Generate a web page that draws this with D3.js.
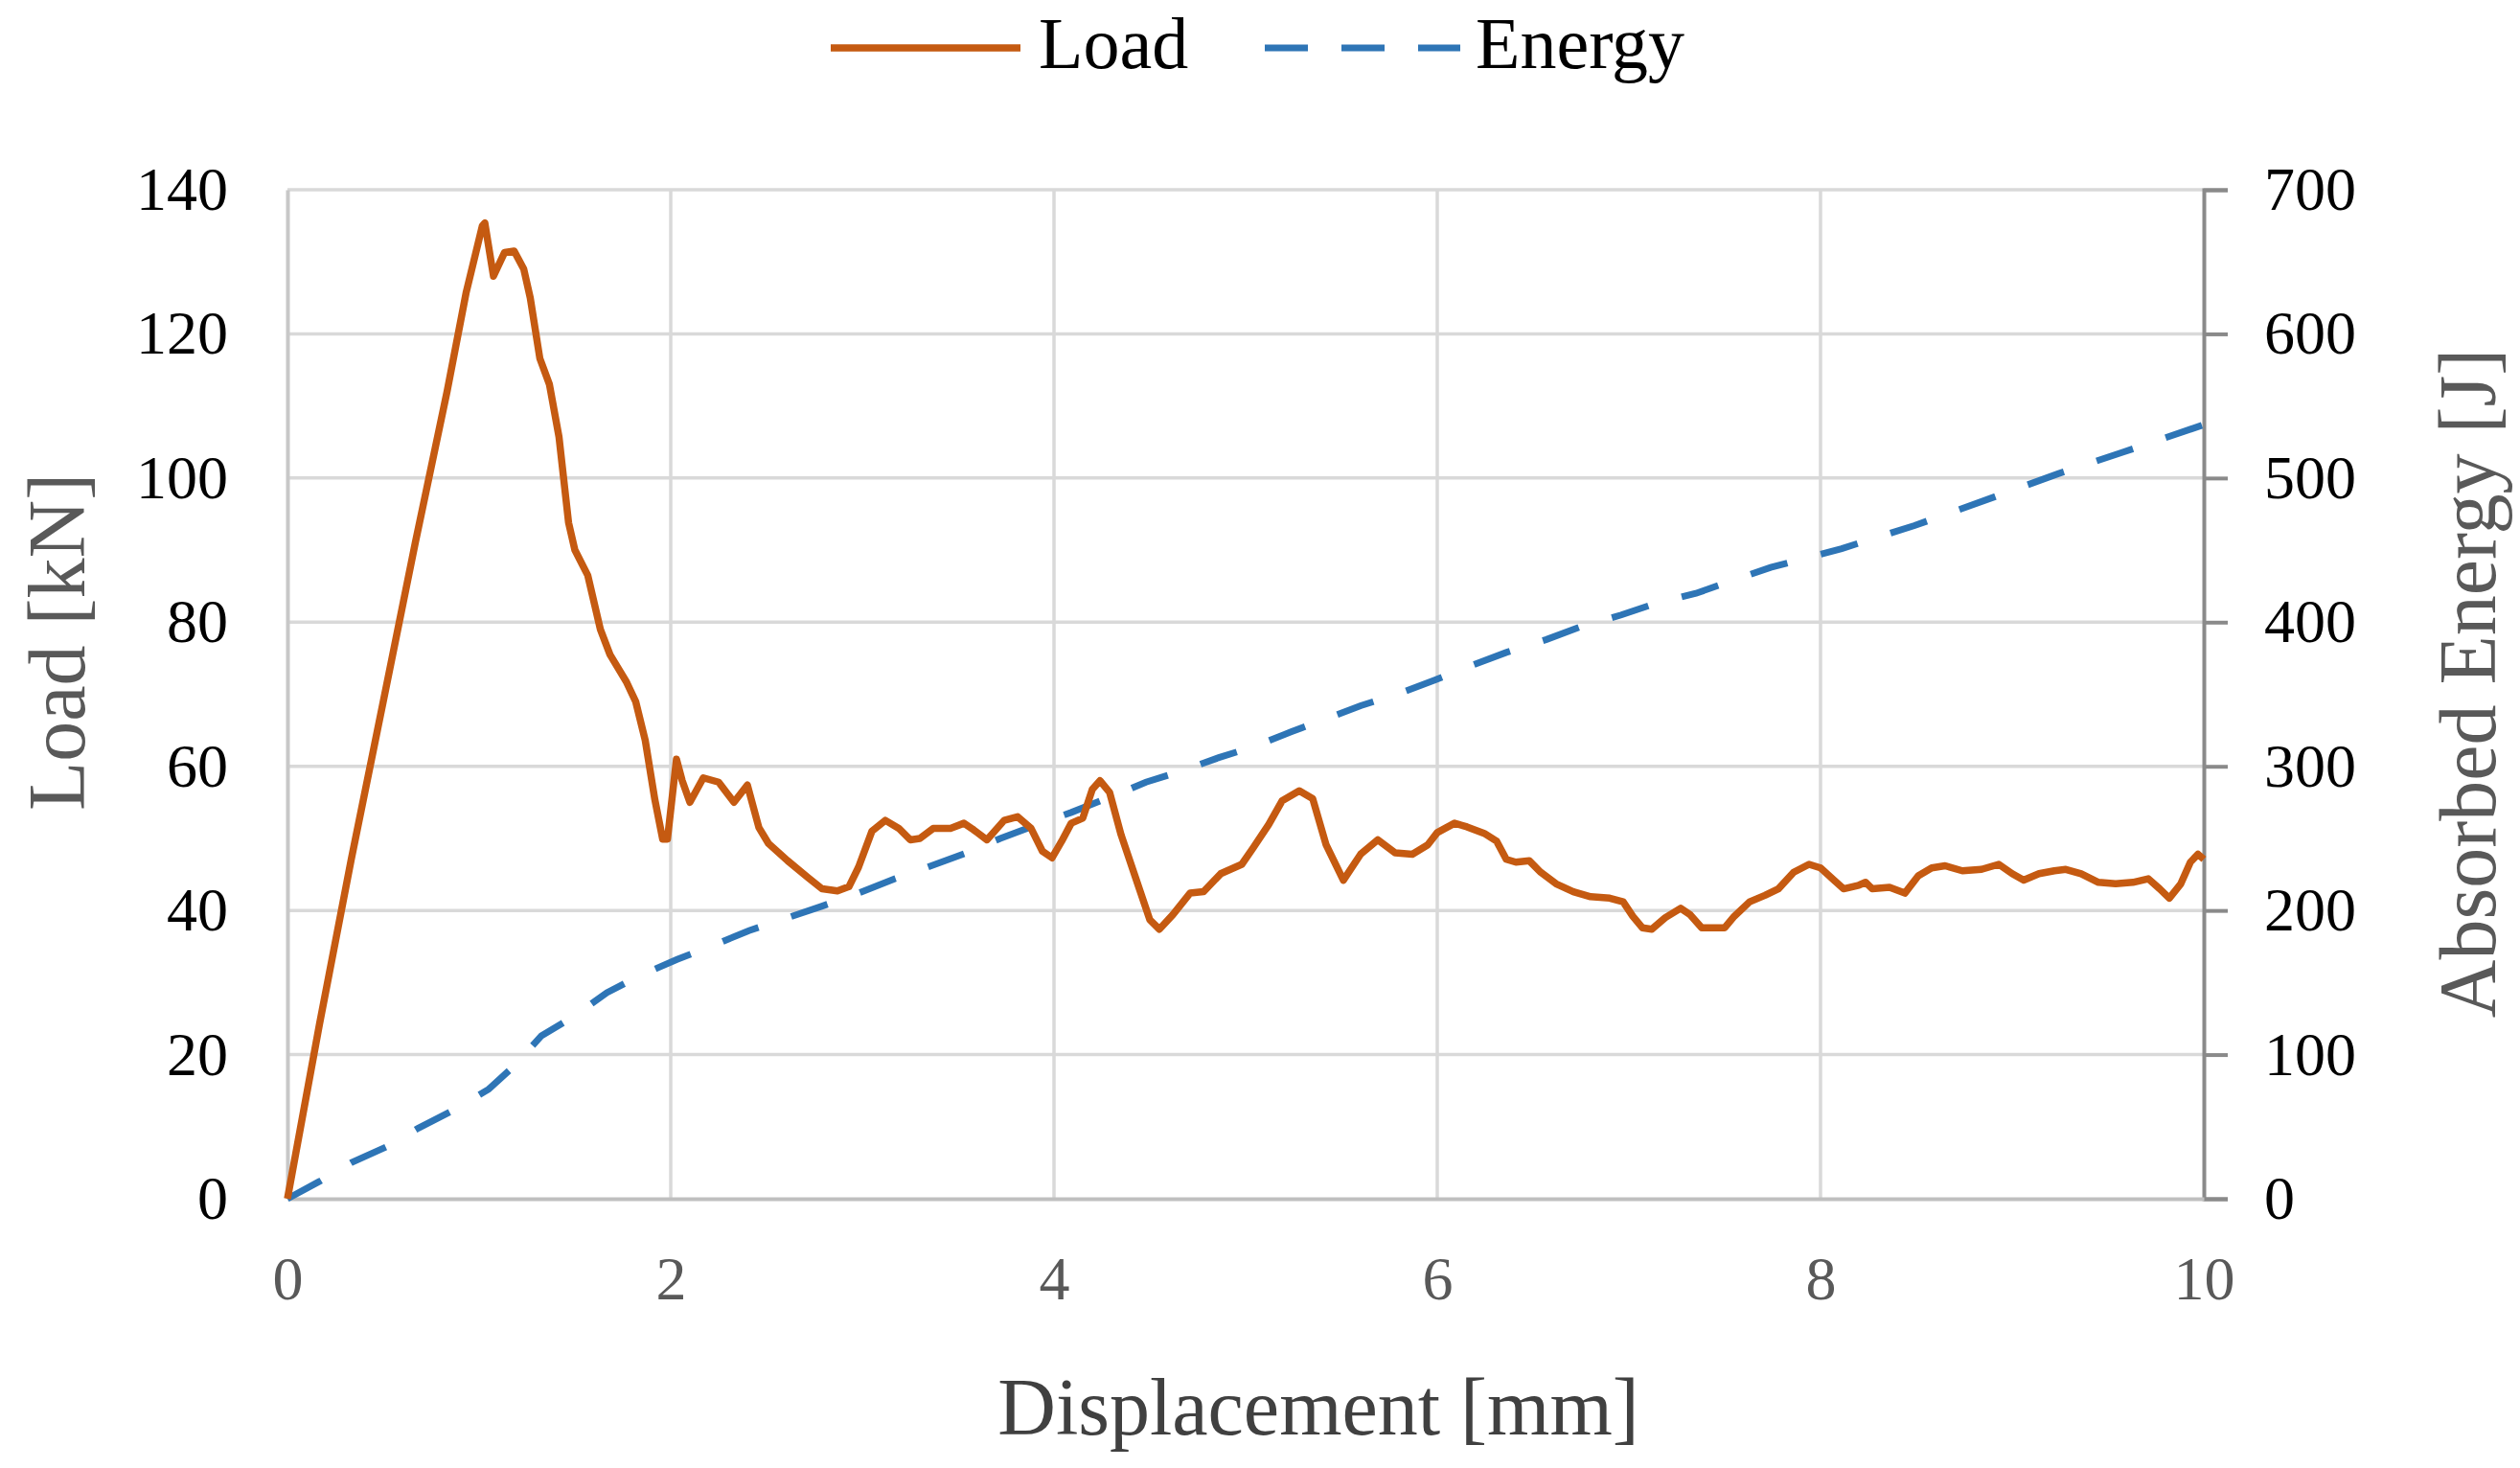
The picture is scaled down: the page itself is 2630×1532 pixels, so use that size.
<!DOCTYPE html>
<html>
<head>
<meta charset="utf-8">
<script src="https://cdn.jsdelivr.net/npm/d3@7"></script>
<style>
  body { margin: 0; background: #fff; }
  text { font-family: "Liberation Serif", "Times New Roman", serif; }
</style>
</head>
<body>
<svg id="chart" width="2630" height="1532"></svg>
<script>
// displacement [mm] / load [kN]
const loadDisp = [0, 0.167, 0.333, 0.5, 0.667, 0.833, 0.933, 1.017, 1.03, 1.075, 1.133, 1.183, 1.233, 1.267,
  1.317, 1.367, 1.417, 1.467, 1.5, 1.567, 1.633, 1.683, 1.767, 1.817, 1.867, 1.917, 1.958, 1.983,
  2.03, 2.06, 2.1, 2.17, 2.25, 2.33, 2.4, 2.46, 2.51, 2.61, 2.715, 2.79, 2.87, 2.93, 2.98,
  3.05, 3.12, 3.19, 3.25, 3.3, 3.37, 3.46, 3.53, 3.58, 3.65, 3.74, 3.81, 3.88, 3.94, 3.99,
  4.04, 4.09, 4.15, 4.2, 4.24, 4.29, 4.35, 4.43, 4.5, 4.55, 4.62, 4.71, 4.78, 4.87, 4.98,
  5.04, 5.12, 5.19, 5.28, 5.35, 5.42, 5.51, 5.6, 5.69, 5.78, 5.87, 5.95,
  6.0, 6.09, 6.155, 6.245, 6.31, 6.36, 6.41, 6.48, 6.54, 6.62, 6.71, 6.8, 6.9, 6.97,
  7.02, 7.07, 7.12, 7.19, 7.27, 7.32, 7.38, 7.5, 7.55, 7.63, 7.71, 7.78, 7.86, 7.94,
  8.0, 8.07, 8.12, 8.2, 8.235, 8.27, 8.36, 8.44, 8.51, 8.58, 8.65, 8.74, 8.84, 8.93,
  9.0, 9.06, 9.14, 9.22, 9.28, 9.36, 9.45, 9.54, 9.63, 9.71, 9.77, 9.82, 9.88, 9.93, 9.97, 10.0];
const loadVal = [0, 24.2, 47.1, 69, 91, 112, 125.8, 135, 135.4, 128, 131.3, 131.5, 129, 125,
  116.6, 113, 105.7, 93.8, 90, 86.5, 79, 75.5, 71.8, 69, 63.6, 55.4, 49.9, 49.9,
  61, 58, 55, 58.4, 57.8, 55, 57.4, 51.5, 49.3, 46.9, 44.6, 43, 42.7, 43.3, 46,
  51, 52.5, 51.4, 49.8, 50, 51.4, 51.4, 52.1, 51.2, 49.8, 52.5, 53, 51.4, 48.2, 47.3,
  49.6, 52.1, 52.8, 56.8, 58, 56.4, 50.5, 44.2, 38.7, 37.4, 39.4, 42.4, 42.6, 45.1, 46.4,
  48.7, 51.9, 55.2, 56.6, 55.5, 49.1, 44.2, 47.8, 49.8, 48, 47.8, 49.1,
  50.8, 52.1, 51.6, 50.7, 49.6, 47.1, 46.7, 46.9, 45.3, 43.7, 42.6, 41.9, 41.7, 41.2,
  39.2, 37.6, 37.4, 39, 40.3, 39.4, 37.6, 37.6, 39.2, 41.2, 42.1, 43, 45.3, 46.4,
  45.9, 44.2, 43, 43.5, 43.9, 43, 43.2, 42.4, 44.8, 45.9, 46.2, 45.5, 45.7, 46.4,
  45.1, 44.2, 45.1, 45.5, 45.7, 45.1, 43.9, 43.7, 43.9, 44.4, 43, 41.7, 43.7, 46.7, 47.8, 47.1];

// displacement [mm] / absorbed energy [J]
const energyDisp = [0, 0.167, 0.333, 0.533, 0.683, 0.875, 1.05, 1.19, 1.325, 1.5, 1.667, 1.842,
  2.033, 2.208, 2.408, 2.59, 2.79, 2.96, 3.17, 3.34, 3.545, 3.72, 3.92, 4.09, 4.3, 4.48, 4.67, 4.86,
  5.05, 5.24, 5.42, 5.6, 5.81, 5.99, 6.18, 6.36, 6.57, 6.75, 6.96, 7.14, 7.35, 7.5, 7.74,
  8.11, 8.49, 8.91, 9.24, 9.58, 10.0];
const energyVal = [0, 12, 25, 37, 49, 62, 76, 93, 113, 127, 143, 155,
  166, 175, 186, 194, 203, 211, 222, 230, 240, 250, 260, 268, 279, 289, 297, 306,
  314, 324, 333, 342, 351, 360, 370, 379, 388, 397, 405, 413, 420, 427, 438,
  451, 467, 487, 503, 518, 537];

const xTicks = [0, 2, 4, 6, 8, 10];
const loadTicks = [0, 20, 40, 60, 80, 100, 120, 140];
const energyTicks = [0, 100, 200, 300, 400, 500, 600, 700];

const plotLeft = 300, plotRight = 2300, plotTop = 198, plotBottom = 1251;
const svg = d3.select("#chart");

const x = d3.scaleLinear().domain([0, 10]).range([plotLeft, plotRight]);
const yLoad = d3.scaleLinear().domain([0, 140]).range([plotBottom, plotTop]);
const yEnergy = d3.scaleLinear().domain([0, 700]).range([plotBottom, plotTop]);

svg.append("rect").attr("width", 2630).attr("height", 1532).attr("fill", "#fff");

// gridlines
svg.append("g")
  .selectAll("line")
  .data(loadTicks.slice(1))
  .join("line")
  .attr("x1", plotLeft).attr("x2", plotRight)
  .attr("y1", d => yLoad(d)).attr("y2", d => yLoad(d))
  .attr("stroke", "#d9d9d9").attr("stroke-width", 3.5);
svg.append("g")
  .selectAll("line")
  .data(xTicks.slice(1, -1))
  .join("line")
  .attr("x1", d => x(d)).attr("x2", d => x(d))
  .attr("y1", plotTop).attr("y2", plotBottom)
  .attr("stroke", "#d9d9d9").attr("stroke-width", 3.5);

// left axis
const gLeft = svg.append("g").attr("transform", `translate(${plotLeft},0)`)
  .call(d3.axisLeft(yLoad).tickValues(loadTicks).tickSize(0).tickPadding(62));
gLeft.select(".domain").attr("stroke", "#c8c8c8").attr("stroke-width", 4);
gLeft.selectAll("text").attr("font-size", 64).attr("fill", "#000")
  .attr("font-family", "Liberation Serif");

// right axis
const gRight = svg.append("g").attr("transform", `translate(${plotRight},0)`)
  .call(d3.axisRight(yEnergy).tickValues(energyTicks).tickSize(25).tickPadding(38));
gRight.select(".domain").attr("stroke", "#8a8a8a").attr("stroke-width", 4);
gRight.selectAll(".tick line").attr("stroke", "#8a8a8a").attr("stroke-width", 4);
gRight.selectAll("text").attr("font-size", 64).attr("fill", "#000")
  .attr("font-family", "Liberation Serif");

// bottom axis
const gBottom = svg.append("g").attr("transform", `translate(0,${plotBottom})`)
  .call(d3.axisBottom(x).tickValues(xTicks).tickSize(0).tickPadding(60));
gBottom.select(".domain").attr("stroke", "#bfbfbf").attr("stroke-width", 4);
gBottom.selectAll("text").attr("font-size", 64).attr("fill", "#595959")
  .attr("font-family", "Liberation Serif");

// series
const loadLine = d3.line().x(d => x(d[0])).y(d => yLoad(d[1]));
const energyLine = d3.line().x(d => x(d[0])).y(d => yEnergy(d[1]));

svg.append("path")
  .datum(energyDisp.map((d, i) => [d, energyVal[i]]))
  .attr("d", energyLine)
  .attr("fill", "none").attr("stroke", "#2e75b6").attr("stroke-width", 7)
  .attr("stroke-dasharray", "40,36");

svg.append("path")
  .datum(loadDisp.map((d, i) => [d, loadVal[i]]))
  .attr("d", loadLine)
  .attr("fill", "none").attr("stroke", "#c55a11").attr("stroke-width", 7.5)
  .attr("stroke-linejoin", "round");

// axis titles
svg.append("text")
  .attr("x", 1376).attr("y", 1497)
  .attr("text-anchor", "middle").attr("font-size", 84).attr("fill", "#404040")
  .text("Displacement [mm]");
svg.append("text")
  .attr("transform", "translate(88,670) rotate(-90)")
  .attr("text-anchor", "middle").attr("font-size", 84).attr("fill", "#595959")
  .text("Load [kN]");
svg.append("text")
  .attr("transform", "translate(2604,713) rotate(-90)")
  .attr("text-anchor", "middle").attr("font-size", 84).attr("fill", "#595959")
  .text("Absorbed Energy [J]");

// legend
const legend = svg.append("g");
legend.append("line")
  .attr("x1", 867).attr("x2", 1065).attr("y1", 50).attr("y2", 50)
  .attr("stroke", "#c55a11").attr("stroke-width", 7.5);
legend.append("text")
  .attr("x", 1084).attr("y", 71).attr("font-size", 76).attr("fill", "#000")
  .text("Load");
legend.append("line")
  .attr("x1", 1320).attr("x2", 1524).attr("y1", 50).attr("y2", 50)
  .attr("stroke", "#2e75b6").attr("stroke-width", 7)
  .attr("stroke-dasharray", "45,35");
legend.append("text")
  .attr("x", 1540).attr("y", 71).attr("font-size", 76).attr("fill", "#000")
  .text("Energy");
</script>
</body>
</html>
